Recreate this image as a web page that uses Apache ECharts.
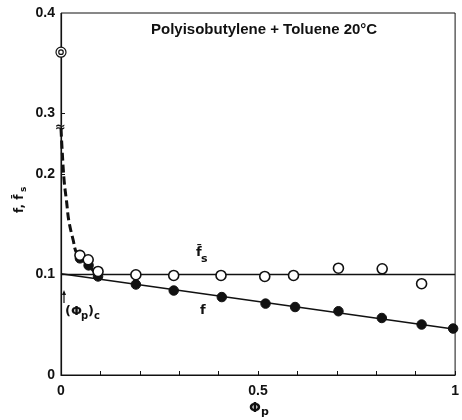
<!DOCTYPE html>
<html>
<head>
<meta charset="utf-8">
<script src="https://cdn.jsdelivr.net/npm/echarts@6/dist/echarts.min.js"></script>
<style>
  html, body { margin: 0; padding: 0; background: #fff; }
  #chart { width: 462px; height: 420px; }
</style>
</head>
<body>
<div id="chart"></div>
<script>
// f (filled circles)
const fPhi = [0.048, 0.070, 0.094, 0.190, 0.286, 0.408, 0.519, 0.594, 0.704, 0.814, 0.915, 0.995];
const fVal = [0.116, 0.109, 0.098, 0.090, 0.084, 0.0775, 0.071, 0.0676, 0.0634, 0.0567, 0.0502, 0.0462];
// f_s bar (open circles)
const fsPhi = [0.048, 0.069, 0.094, 0.190, 0.286, 0.406, 0.517, 0.590, 0.704, 0.815, 0.915];
const fsVal = [0.119, 0.1146, 0.103, 0.0997, 0.099, 0.099, 0.098, 0.099, 0.1062, 0.1056, 0.0908];
// fitted lines
const fLinePhi = [0, 1];
const fLineVal = [0.1007, 0.0455];
const fsLinePhi = [0, 1];
const fsLineVal = [0.1, 0.1];
// dashed curve toward (phi_p)c
const dashPhi = [0, 0.003, 0.008, 0.014, 0.020, 0.031, 0.039, 0.052, 0.070, 0.090];
const dashVal = [0.245, 0.223, 0.193, 0.173, 0.153, 0.134, 0.122, 0.117, 0.109, 0.100];
// point at phi_p = 0
const zeroPhi = [0];
const zeroVal = [0.361];

const yLabels = [0, 0.1, 0.2, 0.3, 0.4];
const yTicks = [0.1, 0.2, 0.3];
const xLabels = [0, 0.5, 1];

const FONT = 'Liberation Sans';
const pairs = (xs, ys) => xs.map((x, i) => [x, ys[i]]);

const chart = echarts.init(document.getElementById('chart'));

chart.setOption({
    animation: false,
    textStyle: { fontFamily: FONT },
    grid: { left: 61, right: 3, top: 13, bottom: 45, show: true, borderColor: '#111', borderWidth: 1 },
    xAxis: {
        type: 'value', min: 0, max: 1, interval: 0.1,
        axisLine: { lineStyle: { color: '#111', width: 1.2 } },
        axisTick: { inside: true, length: 4, lineStyle: { color: '#111' } },
        axisLabel: { customValues: xLabels, color: '#111', fontWeight: 'bold', fontSize: 14, margin: 9, fontFamily: FONT },
        splitLine: { show: false }
    },
    yAxis: {
        type: 'value', min: 0, max: 0.4,
        breaks: [{ start: 0.247, end: 0.289, gap: 0.002 }],
        breakArea: { show: false, expandOnClick: false },
        axisLine: { show: true, lineStyle: { color: '#111', width: 1.2 } },
        axisTick: { show: true, inside: true, length: 4, customValues: yTicks, lineStyle: { color: '#111' } },
        axisLabel: { customValues: yLabels, color: '#111', fontWeight: 'bold', fontSize: 14, margin: 6, fontFamily: FONT },
        splitLine: { show: false }
    },
    series: [
        { type: 'line', data: pairs(fsLinePhi, fsLineVal), symbol: 'none', lineStyle: { color: '#111', width: 1.5 }, z: 2 },
        { type: 'line', data: pairs(fLinePhi, fLineVal), symbol: 'none', lineStyle: { color: '#111', width: 1.5 }, z: 2 },
        { type: 'line', data: pairs(dashPhi, dashVal), symbol: 'none', smooth: 0.4,
          lineStyle: { color: '#111', width: 3, type: [8, 4] }, z: 3 },
        { type: 'scatter', data: pairs(fPhi, fVal), symbol: 'circle', symbolSize: 9.5,
          itemStyle: { color: '#111', borderColor: '#111', borderWidth: 1, opacity: 1 }, z: 4, clip: false },
        { type: 'scatter', data: pairs(fsPhi, fsVal), symbol: 'circle', symbolSize: 10,
          itemStyle: { color: '#fff', borderColor: '#111', borderWidth: 1.6, opacity: 1 }, z: 5, clip: false },
        { type: 'scatter', data: pairs(zeroPhi, zeroVal), symbol: 'circle', symbolSize: 10,
          itemStyle: { color: '#fff', borderColor: '#111', borderWidth: 1.2, opacity: 1 }, z: 5, clip: false },
        { type: 'scatter', data: pairs(zeroPhi, zeroVal), symbol: 'circle', symbolSize: 4.5,
          itemStyle: { color: '#fff', borderColor: '#111', borderWidth: 1.2, opacity: 1 }, z: 6, clip: false }
    ],
    graphic: [
        { type: 'text', left: 151, top: 22, style: { text: 'Polyisobutylene + Toluene 20°C', font: 'bold 15px ' + FONT, fill: '#111' } },
        // axis break mark
        { type: 'text', x: 55, y: 121, style: { text: '≈', font: 'bold 13px DejaVu Sans', fill: '#111' }, z: 10 },
        // y axis name
        { type: 'group', x: 22, y: 213, rotation: Math.PI / 2, children: [
            { type: 'text', x: 0, y: -8, style: { text: 'f, f\u0304', font: 'bold 12px DejaVu Sans', fill: '#111' } },
            { type: 'text', x: 21, y: -3, style: { text: 's', font: 'bold 9px DejaVu Sans', fill: '#111' } }
        ] },
        // x axis name
        { type: 'text', x: 249, y: 401, style: { text: 'Φ', font: 'bold 14px DejaVu Sans', fill: '#111' } },
        { type: 'text', x: 261, y: 407, style: { text: 'p', font: 'bold 11px DejaVu Sans', fill: '#111' } },
        // fs label
        { type: 'text', x: 196, y: 246, style: { text: 'f\u0304', font: 'bold 13px DejaVu Sans', fill: '#111' } },
        { type: 'text', x: 201, y: 254, style: { text: 's', font: 'bold 11px DejaVu Sans', fill: '#111' } },
        // f label
        { type: 'text', x: 200, y: 304, style: { text: 'f', font: 'bold 13px DejaVu Sans', fill: '#111' } },
        // (phi_p)c label
        { type: 'text', x: 65, y: 305, style: { text: '(Φ', font: 'bold 13px DejaVu Sans', fill: '#111' } },
        { type: 'text', x: 81, y: 311, style: { text: 'p', font: 'bold 10px DejaVu Sans', fill: '#111' } },
        { type: 'text', x: 88, y: 305, style: { text: ')', font: 'bold 13px DejaVu Sans', fill: '#111' } },
        { type: 'text', x: 94, y: 311, style: { text: 'c', font: 'bold 10px DejaVu Sans', fill: '#111' } },
        // arrow
        { type: 'line', shape: { x1: 64, y1: 303, x2: 64, y2: 293 }, style: { stroke: '#111', lineWidth: 1.2 } },
        { type: 'polygon', shape: { points: [[64, 290], [62, 295], [66, 295]] }, style: { fill: '#111' } }
    ]
});
</script>
</body>
</html>
